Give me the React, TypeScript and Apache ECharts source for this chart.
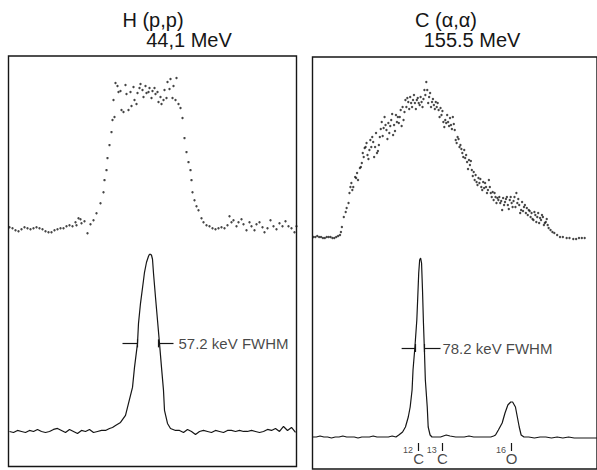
import React, { useEffect, useRef } from "react";
import * as echarts from "echarts";

// ---------- Left panel: H(p,p) 44.1 MeV (channel, counts) ----------
const leftUpper: [number, number][] = [
  [1, 239], [4, 238], [7, 236], [10, 235], [13, 237], [16, 239], [19, 238], [22, 237], [25, 238], [28, 239],
  [31, 238], [34, 237], [37, 235], [40, 234], [43, 234], [46, 236], [49, 237], [52, 238], [55, 238], [58, 240],
  [61, 241], [64, 240], [67, 244], [68, 241], [70, 248], [72, 247], [73, 243], [76, 245], [79, 233], [82, 242],
  [85, 246], [88, 253],
  [92, 263], [95, 274], [96, 286], [98, 296], [99, 308], [101, 321], [103, 334], [104, 346], [106, 349], [105, 366],
  [107, 383], [109, 380], [110, 374], [112, 375], [113, 356], [115, 354], [117, 381], [118, 372], [120, 356], [122, 374],
  [123, 360], [125, 379], [126, 366], [128, 362], [129, 373], [131, 378], [132, 382], [134, 376], [135, 369], [137, 380],
  [138, 373], [140, 374], [141, 378], [143, 368], [144, 375], [146, 378], [147, 372], [149, 374], [150, 364], [152, 369],
  [153, 362], [155, 366], [156, 376], [158, 368], [159, 384], [161, 377], [162, 387], [164, 368], [165, 380], [167, 366],
  [168, 388], [170, 362], [172, 358],
  [174, 348], [176, 328], [178, 314], [180, 304], [182, 296], [183, 286], [184, 274], [186, 266], [188, 260], [190, 256],
  [193, 248], [195, 244],
  [198, 241], [201, 240], [204, 238], [207, 237], [210, 238], [213, 239], [216, 238], [219, 241], [221, 250], [223, 244],
  [225, 246], [228, 240], [230, 244], [233, 247], [235, 242], [238, 236], [241, 244], [243, 240], [246, 236], [248, 242],
  [251, 244], [254, 239], [256, 234], [259, 238], [262, 246], [265, 240], [268, 237], [271, 243], [274, 240], [277, 245],
  [280, 240], [283, 238], [286, 234], [288, 240],
];

const leftLower: [number, number][] = [
  [1, 35], [5, 34], [9, 36], [13, 35], [17, 34], [21, 36], [25, 35], [29, 37], [33, 35], [37, 34],
  [41, 35], [45, 37], [49, 38], [53, 36], [57, 34], [61, 37], [65, 35], [69, 33], [73, 36], [77, 35],
  [81, 37], [85, 34], [89, 35], [93, 36], [97, 36], [101, 38],
  [104, 39], [107, 41], [112, 44], [117, 51], [120, 63], [124, 79], [126, 99], [129, 123], [130, 143], [132, 163],
  [135, 186], [136, 194], [138, 204], [140, 210], [141, 212], [142, 212], [143, 211], [144, 207], [145, 193], [147, 169],
  [149, 146], [151, 123], [153, 99], [155, 76], [156, 56], [159, 43], [162, 38], [167, 36],
  [171, 36], [175, 34], [179, 37], [183, 35], [187, 32], [191, 35], [195, 36], [199, 35], [203, 34], [207, 36],
  [211, 35], [215, 34], [219, 36], [223, 36], [227, 35], [231, 36], [235, 35], [239, 35], [243, 36], [247, 35],
  [251, 34], [255, 35], [259, 37], [263, 36], [267, 38], [271, 35], [275, 40], [279, 36], [283, 39], [287, 34],
];

const leftFwhmY = 123;
const leftFwhmBars: [number, number][] = [[114, 129], [150, 165]];
const leftFwhmTicks = [129, 150];
const leftFwhmText = "57.2 keV FWHM";
const leftFwhmTextX = 170;

// ---------- Right panel: C(α,α) 155.5 MeV (channel, counts) ----------
const rightUpper: [number, number][] = [
  [1, 232], [3, 232], [5, 233], [7, 232], [9, 232], [11, 231], [13, 231], [15, 232], [17, 232], [19, 232],
  [21, 231], [23, 231], [25, 232], [27, 233], [29, 234],
  [30, 237], [31, 242], [33, 252], [35, 257], [36, 261], [38, 266], [40, 282], [41, 286], [43, 282], [45, 292],
  [46, 291], [48, 289], [50, 301], [51, 302], [53, 316], [55, 321], [56, 322], [58, 314], [60, 319], [61, 329],
  [63, 332], [65, 312], [66, 322], [68, 316], [70, 324], [71, 332], [73, 347], [75, 341], [76, 352], [78, 339],
  [80, 346], [81, 336], [83, 349], [85, 334], [86, 344], [88, 354], [90, 352], [91, 346], [93, 359], [95, 362],
  [96, 349], [98, 369], [100, 371], [101, 367], [103, 372], [105, 362], [106, 369], [108, 366], [110, 369], [111, 371],
  [113, 364], [115, 367], [116, 362], [118, 379], [120, 387], [121, 379], [123, 372], [125, 362], [126, 367], [128, 364],
  [130, 367], [131, 362], [133, 359], [135, 361], [136, 354], [138, 347], [140, 349], [141, 346], [143, 347], [145, 351],
  [146, 344], [148, 352], [150, 339], [151, 329], [153, 332], [155, 322], [156, 324], [158, 316], [160, 319], [161, 311],
  [163, 307], [165, 309], [166, 304], [168, 299], [170, 297], [171, 289], [173, 287], [175, 291], [176, 286], [178, 282],
  [180, 287], [181, 281], [183, 282], [185, 279], [186, 289], [188, 276], [190, 277], [191, 269], [193, 272], [195, 271],
  [196, 269], [198, 266], [200, 259], [201, 271], [203, 267], [205, 272], [206, 264], [208, 269], [210, 266], [211, 262],
  [213, 272], [215, 276], [216, 266], [218, 264], [220, 259], [221, 267], [223, 262], [225, 256], [226, 261], [228, 259],
  [230, 252], [231, 256], [233, 249], [235, 254], [236, 247], [238, 256], [240, 251], [241, 249], [243, 252], [245, 246],
  [246, 247], [248, 244], [251, 239], [253, 237], [255, 236], [258, 234], [261, 232], [264, 232], [268, 231], [271, 231],
  [275, 230], [278, 230], [281, 231], [284, 231], [287, 231],
  [39, 276], [42, 279], [47, 296], [52, 306], [54, 312], [57, 326], [59, 310], [62, 322], [64, 327], [67, 336],
  [69, 318], [72, 340], [74, 333], [77, 344], [79, 330], [82, 343], [84, 355], [87, 338], [89, 347], [92, 352],
  [94, 343], [97, 357], [99, 362], [102, 360], [104, 366], [107, 374], [109, 360], [112, 366], [114, 372], [117, 370],
  [119, 374], [122, 366], [124, 376], [127, 370], [129, 360], [132, 366], [134, 352], [137, 358], [139, 342], [142, 354],
  [144, 343], [147, 340], [149, 345], [152, 326], [154, 330], [157, 320], [159, 312], [162, 314], [164, 300], [167, 308],
  [169, 293], [172, 294], [174, 284], [177, 290], [179, 279], [182, 286], [184, 276], [187, 282], [189, 272], [192, 276],
  [194, 266], [197, 272], [199, 268], [202, 264], [204, 270], [207, 260], [209, 272], [212, 268], [214, 262], [217, 270],
  [219, 256], [222, 258], [224, 264], [227, 254], [229, 258], [232, 250], [234, 257], [237, 252], [239, 246], [242, 254],
  [244, 244], [247, 250], [249, 241],
];

const rightLower: [number, number][] = [
  [0, 32], [4, 32], [8, 33], [12, 32], [16, 32], [20, 31], [24, 32], [28, 32], [32, 33], [36, 32],
  [40, 32], [44, 32], [48, 31], [52, 32], [56, 32], [60, 32], [64, 33], [68, 32], [72, 32], [76, 32],
  [80, 32], [84, 33], [88, 32], [91, 34], [95, 37], [98, 42], [101, 52], [103, 62], [105, 79], [106, 99],
  [108, 122], [110, 149], [111, 172], [112, 196], [113, 209], [114, 211], [115, 206], [116, 179], [117, 146], [118, 119],
  [119, 89], [121, 62], [122, 42], [124, 34], [126, 32], [130, 32], [135, 32], [138, 33], [141, 34], [145, 33],
  [151, 32], [156, 32], [160, 32], [165, 33], [170, 32], [175, 32], [180, 32], [185, 32], [188, 32], [191, 33],
  [193, 34], [196, 39], [200, 46], [203, 56], [206, 64], [209, 67], [211, 67], [214, 62], [216, 52], [218, 42],
  [220, 34], [223, 32], [228, 32], [234, 31], [240, 32], [246, 32], [252, 31], [258, 32], [264, 31], [270, 32],
  [276, 31], [282, 31], [288, 31], [295, 31], [300, 31],
];

const rightFwhmY = 121;
const rightFwhmBars: [number, number][] = [[94, 108], [118, 135]];
const rightFwhmTicks = [108, 118];
const rightFwhmText = "78.2 keV FWHM";
const rightFwhmTextX = 137;

const isoMass = ["12", "13", "16"];
const isoSymbol = ["C", "C", "O"];
const isoChannel = [112, 137, 210];

const INK = "#161616";
const FONT = '"Liberation Sans", Arial, sans-serif';

function fwhmMarks(y: number, bars: [number, number][], ticks: number[]) {
  const data: any[] = [];
  bars.forEach(([a, b]) => data.push([{ coord: [a, y] }, { coord: [b, y] }]));
  ticks.forEach((t) => data.push([{ coord: [t, y - 4] }, { coord: [t, y + 4] }]));
  return {
    silent: true,
    symbol: "none",
    label: { show: false },
    lineStyle: { color: INK, width: 1.2, type: "solid" },
    data,
  };
}

export default function App() {
  const ref = useRef<HTMLDivElement>(null);
  useEffect(() => {
    const chart = echarts.init(ref.current!, null, { renderer: "svg" });
    const axisOff = { show: false };
    const option: any = {
      animation: false,
      backgroundColor: "#ffffff",
      grid: [
        { left: 8.5, top: 56, width: 288, height: 410.5, show: true, borderColor: INK, borderWidth: 1.4, backgroundColor: "transparent" },
        { left: 312.5, top: 57, width: 300, height: 412, show: true, borderColor: INK, borderWidth: 1.4, backgroundColor: "transparent" },
      ],
      xAxis: [
        { type: "value", gridIndex: 0, min: 0, max: 288, ...axisOff },
        { type: "value", gridIndex: 1, min: 0, max: 300, ...axisOff },
      ],
      yAxis: [
        { type: "value", gridIndex: 0, min: 0, max: 410, ...axisOff },
        { type: "value", gridIndex: 1, min: 0, max: 412, ...axisOff },
      ],
      graphic: [
        { type: "text", x: 153, y: 20, style: { text: "H (p,p)", font: `20px ${FONT}`, fill: INK, textAlign: "center", textVerticalAlign: "middle" } },
        { type: "text", x: 189, y: 40, style: { text: "44,1 MeV", font: `20px ${FONT}`, fill: INK, textAlign: "center", textVerticalAlign: "middle" } },
        { type: "text", x: 446, y: 20, style: { text: "C (α,α)", font: `20px ${FONT}`, fill: INK, textAlign: "center", textVerticalAlign: "middle" } },
        { type: "text", x: 472, y: 40, style: { text: "155.5 MeV", font: `20px ${FONT}`, fill: INK, textAlign: "center", textVerticalAlign: "middle" } },
      ],
      series: [
        {
          type: "scatter", xAxisIndex: 0, yAxisIndex: 0, data: leftUpper,
          symbolSize: 2.4, itemStyle: { color: INK }, silent: true,
        },
        {
          type: "line", xAxisIndex: 0, yAxisIndex: 0, data: leftLower, showSymbol: false,
          lineStyle: { color: INK, width: 1.2 }, silent: true,
          markLine: fwhmMarks(leftFwhmY, leftFwhmBars, leftFwhmTicks),
        },
        {
          type: "scatter", xAxisIndex: 0, yAxisIndex: 0, data: [[leftFwhmTextX, leftFwhmY]], symbolSize: 0, silent: true,
          label: { show: true, position: "right", distance: 0, formatter: leftFwhmText, color: INK, fontSize: 15, fontFamily: FONT },
        },
        {
          type: "scatter", xAxisIndex: 1, yAxisIndex: 1, data: rightUpper,
          symbolSize: 2.4, itemStyle: { color: INK }, silent: true,
        },
        {
          type: "line", xAxisIndex: 1, yAxisIndex: 1, data: rightLower, showSymbol: false,
          lineStyle: { color: INK, width: 1.2 }, silent: true,
          markLine: (() => {
            const m = fwhmMarks(rightFwhmY, rightFwhmBars, rightFwhmTicks);
            isoChannel.forEach((c) => m.data.push([{ coord: [c, 18] }, { coord: [c, 26] }]));
            return m;
          })(),
        },
        {
          type: "scatter", xAxisIndex: 1, yAxisIndex: 1, data: [[rightFwhmTextX, rightFwhmY]], symbolSize: 0, silent: true,
          label: { show: true, position: "right", distance: 0, formatter: rightFwhmText, color: INK, fontSize: 15, fontFamily: FONT },
        },
        {
          type: "scatter", xAxisIndex: 1, yAxisIndex: 1, symbolSize: 0, silent: true,
          data: isoChannel.map((c, i) => ({ value: [c, 11], name: isoSymbol[i] })),
          label: { show: true, position: "inside", formatter: (p: any) => p.name, color: INK, fontSize: 15, fontFamily: FONT },
        },
        {
          type: "scatter", xAxisIndex: 1, yAxisIndex: 1, symbolSize: 0, silent: true,
          data: isoChannel.map((c, i) => ({ value: [c - 6, 19], name: isoMass[i] })),
          label: { show: true, position: "left", distance: 0, formatter: (p: any) => p.name, color: INK, fontSize: 9, fontFamily: FONT },
        },
      ],
    };
    chart.setOption(option);
    return () => chart.dispose();
  }, []);
  return <div ref={ref} style={{ position: "fixed", left: 0, top: 0, width: 597, height: 470 }} />;
}
